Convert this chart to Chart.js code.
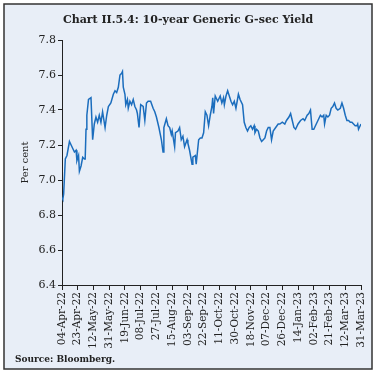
<!DOCTYPE html>
<html><head><meta charset="utf-8">
<script src="https://cdn.jsdelivr.net/npm/chart.js@4/dist/chart.umd.min.js"></script>
<style>html,body{margin:0;padding:0;background:#fff;}#wrap{width:376px;height:375px;}</style>
</head><body><div id="wrap"><canvas id="c" width="376" height="375"></canvas></div>
<script>
const chartTitle = 'Chart II.5.4: 10-year Generic G-sec Yield';
const sourceNote = 'Source: Bloomberg.';
const yAxisTitle = 'Per cent';
const tickLabels = ['04-Apr-22','23-Apr-22','12-May-22','31-May-22','19-Jun-22','08-Jul-22','27-Jul-22','15-Aug-22','03-Sep-22','22-Sep-22','11-Oct-22','30-Oct-22','18-Nov-22','07-Dec-22','26-Dec-22','14-Jan-23','02-Feb-23','21-Feb-23','12-Mar-23','31-Mar-23'];
const tickStepDays = 19;
// days since 04-Apr-22
const dayOffsets = [0,1,2,4,6,9,12,15,17,18,20,21,23,25,27,28,29,30,32,35,37,39,41,43,45,47,49,52,54,56,59,62,64,66,68,70,72,73,74,76,77,79,80,82,84,86,88,90,91,93,95,98,100,102,104,107,110,112,114,117,120,122,123,126,128,130,132,133,136,137,140,142,144,146,148,151,152,154,157,158,161,162,165,167,169,171,173,175,177,179,181,182,183,185,188,191,193,195,196,198,200,202,204,206,208,210,213,215,218,220,222,224,226,228,230,232,233,235,237,239,241,243,245,247,249,251,253,255,258,261,263,266,269,271,274,276,278,280,282,285,288,291,293,296,298,300,302,304,306,308,310,312,314,316,317,319,321,323,325,327,329,331,333,336,338,340,342,344,346,348,350,352,354,356,357,358,360,361];
const yields = [6.90,6.89,6.92,7.12,7.14,7.22,7.19,7.16,7.17,7.11,7.14,7.05,7.08,7.13,7.12,7.12,7.29,7.37,7.46,7.47,7.23,7.32,7.36,7.33,7.37,7.33,7.39,7.30,7.37,7.42,7.44,7.49,7.51,7.50,7.53,7.60,7.61,7.62,7.53,7.49,7.43,7.46,7.41,7.45,7.43,7.46,7.42,7.40,7.38,7.30,7.43,7.42,7.34,7.44,7.45,7.45,7.41,7.39,7.36,7.30,7.23,7.16,7.30,7.35,7.31,7.30,7.26,7.28,7.19,7.27,7.28,7.30,7.23,7.25,7.19,7.23,7.21,7.17,7.09,7.13,7.14,7.09,7.23,7.24,7.24,7.27,7.39,7.37,7.31,7.37,7.42,7.47,7.38,7.48,7.45,7.48,7.44,7.47,7.43,7.48,7.51,7.48,7.45,7.43,7.45,7.41,7.49,7.46,7.43,7.33,7.30,7.28,7.30,7.31,7.29,7.31,7.27,7.29,7.28,7.24,7.22,7.23,7.24,7.28,7.30,7.30,7.23,7.28,7.30,7.32,7.32,7.33,7.32,7.34,7.36,7.38,7.34,7.30,7.29,7.32,7.34,7.35,7.34,7.37,7.38,7.40,7.29,7.29,7.31,7.33,7.35,7.37,7.36,7.37,7.32,7.37,7.36,7.37,7.41,7.42,7.44,7.41,7.40,7.41,7.44,7.41,7.37,7.34,7.34,7.33,7.33,7.32,7.31,7.31,7.32,7.29,7.31,7.32];
const yMin = 6.4, yMax = 7.8, yStep = 0.2;

const frame = {
  id: 'frame',
  beforeDraw(chart) {
    const ctx = chart.ctx;
    ctx.save();
    ctx.fillStyle = '#ffffff';
    ctx.fillRect(0, 0, chart.width, chart.height);
    ctx.fillStyle = '#e8eef7';
    ctx.fillRect(4, 4, 368, 365);
    ctx.strokeStyle = '#333';
    ctx.lineWidth = 1.5;
    ctx.strokeRect(4, 4, 368, 365);
    ctx.restore();
  },
  afterDraw(chart) {
    const ctx = chart.ctx;
    ctx.save();
    ctx.fillStyle = '#222';
    ctx.textBaseline = 'middle';
    ctx.textAlign = 'center';
    ctx.font = 'bold 11px "DejaVu Serif"';
    ctx.fillText(chartTitle, 188, 20);
    ctx.textAlign = 'left';
    ctx.font = 'bold 9px "DejaVu Serif"';
    ctx.fillText(sourceNote, 15, 360);
    ctx.restore();
  }
};

new Chart(document.getElementById('c'), {
  type: 'line',
  data: { datasets: [{
    data: dayOffsets.map((d, i) => ({x: d, y: yields[i]})),
    borderColor: '#1b6dbd', borderWidth: 1.5, pointRadius: 0, tension: 0, fill: false
  }]},
  options: {
    responsive: false, animation: false, devicePixelRatio: 1,
    layout: { padding: {left: 4, top: 40, right: 15, bottom: 0} },
    plugins: { legend: {display: false}, tooltip: {enabled: false} },
    scales: {
      x: {
        type: 'linear', min: 0, max: tickStepDays * (tickLabels.length - 1),
        afterFit: s => { s.height = 90; },
        ticks: { stepSize: tickStepDays, autoSkip: false, maxRotation: 90, minRotation: 90,
          color: '#222', font: {family: '"DejaVu Serif"', size: 10.5}, padding: 2,
          callback: v => tickLabels[Math.round(v / tickStepDays)] },
        grid: { drawOnChartArea: false, drawTicks: true, tickLength: 5, color: '#222' },
        border: { display: true, color: '#222', width: 1 }
      },
      y: {
        min: yMin, max: yMax,
        afterFit: s => { s.width = 58; },
        ticks: { stepSize: yStep, color: '#222', font: {family: '"DejaVu Serif"', size: 11}, padding: 2,
          callback: v => v.toFixed(1) },
        grid: { drawOnChartArea: false, drawTicks: true, tickLength: 4, color: '#222' },
        border: { display: true, color: '#222', width: 1 },
        title: { display: true, text: yAxisTitle, color: '#222',
          font: {family: '"DejaVu Serif"', size: 10}, padding: {top: 15, bottom: 0} }
      }
    }
  },
  plugins: [frame]
});
</script></body></html>
